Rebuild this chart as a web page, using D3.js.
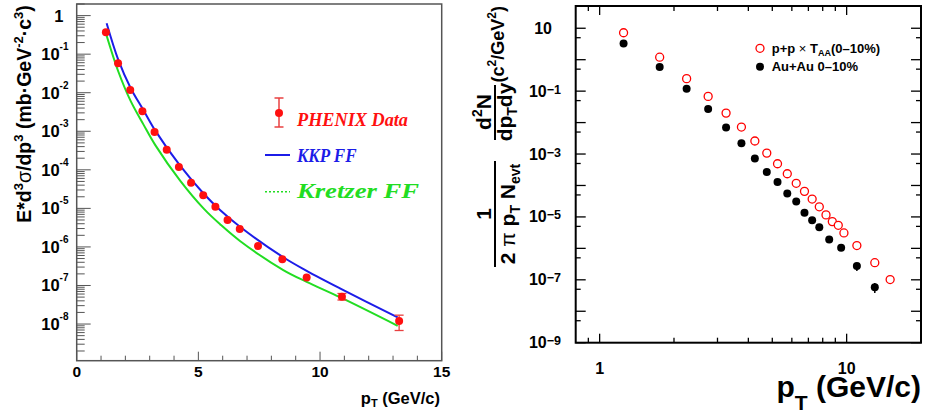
<!DOCTYPE html>
<html><head><meta charset="utf-8">
<script src="https://cdn.jsdelivr.net/npm/d3@7"></script>
<style>body{margin:0;background:#fff}svg{display:block}</style>
</head><body>
<svg id="c" width="925" height="415" font-family="Liberation Sans, Arial, sans-serif"></svg>
<script>
// ---------- LEFT PANEL DATA ----------
const phenixPt  = [1.2, 1.7, 2.2, 2.7, 3.2, 3.7, 4.2, 4.7, 5.2, 5.7, 6.2, 6.7, 7.45, 8.45, 9.45, 10.9, 13.25];
const phenixVal = [0.37, 0.058, 0.0118, 3.3e-3, 9.6e-4, 3.3e-4, 1.18e-4, 4.64e-5, 2.19e-5, 1.1e-5, 5.0e-6, 2.93e-6, 1.05e-6, 4.8e-7, 1.6e-7, 5.1e-8, 1.2e-8];
const phenixLo  = [null,null,null,null,null,null,null,null,null,null,null,null,null,null,null,4.2e-8,6.8e-9];
const phenixHi  = [null,null,null,null,null,null,null,null,null,null,null,null,null,null,null,6.2e-8,1.7e-8];
const kkpPt   = [1.23, 1.71, 2.22, 2.74, 3.23, 4.25, 5.24, 5.89, 6.71, 8.49, 9.45, 10.84, 13.19];
const kkpVal  = [0.635, 0.071, 0.0131, 3.57e-3, 1.04e-3, 1.28e-4, 2.32e-5, 9.1e-6, 3.35e-6, 5.4e-7, 2.4e-7, 8.3e-8, 1.49e-8];
const kretPt  = [1.20, 1.71, 2.22, 2.74, 3.23, 4.25, 5.24, 5.89, 6.71, 8.49, 9.45, 10.84, 13.19];
const kretVal = [0.349, 0.0355, 6.03e-3, 1.51e-3, 4.37e-4, 5.25e-5, 9.55e-6, 3.89e-6, 1.43e-6, 2.51e-7, 1.24e-7, 4.9e-8, 9.0e-9];
const leftXTicks = [0,1,2,3,4,5,6,7,8,9,10,11,12,13,14,15];
const leftXLabels = [0,5,10,15];
const leftYExps = [0,-1,-2,-3,-4,-5,-6,-7,-8];

// ---------- RIGHT PANEL DATA ----------
const ppPt  = [1.25,1.75,2.25,2.75,3.25,3.75,4.25,4.75,5.25,5.75,6.25,6.75,7.25,7.75,8.25,8.75,9.25,9.75,11,13,15];
const ppVal = [7.2, 1.2, 0.25, 0.068, 0.020, 0.0072, 0.0026, 1.07e-3, 4.9e-4, 2.36e-4, 1.17e-4, 6.5e-5, 3.7e-5, 2.1e-5, 1.16e-5, 7.1e-6, 5.4e-6, 3.1e-6, 1.23e-6, 3.5e-7, 1.02e-7];
const auPt  = [1.25,1.75,2.25,2.75,3.25,3.75,4.25,4.75,5.25,5.75,6.25,6.75,7.25,7.75,8.5,9.5,11,13];
const auVal = [3.3, 0.59, 0.12, 0.027, 0.0070, 0.0022, 7.2e-4, 2.7e-4, 1.3e-4, 5.6e-5, 3.1e-5, 1.35e-5, 7.8e-6, 4.7e-6, 1.9e-6, 1.04e-6, 2.75e-7, 5.8e-8];
const auLo  = [null,null,null,null,null,null,null,null,null,null,null,null,null,null,null,null,1.9e-7,3.8e-8];
const auHi  = [null,null,null,null,null,null,null,null,null,null,null,null,null,null,null,null,3.4e-7,7.9e-8];
const rightXTicks = [0.9,1,2,3,4,5,6,7,8,9,10,20];
const rightXLabels = [1,10];
const rightYExps = [1,0,-1,-2,-3,-4,-5,-6,-7,-8,-9];
const rightYLabelExps = [1,-1,-3,-5,-7,-9];

const svg = d3.select("#c");
const SER = '"Liberation Serif", "Times New Roman", serif';

// ================= LEFT PANEL =================
const xL = d3.scaleLinear([0,15],[76.7,441.7]);
const yL = d3.scaleLog([1.12e-9,2],[360.7,4]);
const gL = svg.append("g");
const frameCol = "#555";

const lineL = d3.line().x(d=>xL(d[0])).y(d=>yL(d[1])).curve(d3.curveCatmullRom.alpha(0.5));
gL.append("path").attr("d", lineL(kretPt.map((p,i)=>[p,kretVal[i]])))
  .attr("fill","none").attr("stroke","#22dd22").attr("stroke-width",2);
gL.append("path").attr("d", lineL(kkpPt.map((p,i)=>[p,kkpVal[i]])))
  .attr("fill","none").attr("stroke","#1c1ce8").attr("stroke-width",2);

phenixPt.forEach((p,i)=>{
  if(phenixLo[i]==null) return;
  const x=xL(p), y1=yL(phenixLo[i]), y2=yL(phenixHi[i]);
  gL.append("line").attr("x1",x).attr("x2",x).attr("y1",y1).attr("y2",y2).attr("stroke","#e84040").attr("stroke-width",1.3);
  [y1,y2].forEach(y=>gL.append("line").attr("x1",x-4.5).attr("x2",x+4.5).attr("y1",y).attr("y2",y).attr("stroke","#e84040").attr("stroke-width",1.3));
});
gL.selectAll("circle.ph").data(phenixPt).join("circle").attr("class","ph")
  .attr("cx",d=>xL(d)).attr("cy",(d,i)=>yL(phenixVal[i])).attr("r",4).attr("fill","#ff1010");

gL.append("rect").attr("x",76.7).attr("y",4).attr("width",365).attr("height",356.7)
  .attr("fill","none").attr("stroke",frameCol).attr("stroke-width",1.5);

const lyTicks=[];
for(let k=-9;k<=0;k++) for(let m=1;m<=9;m++){const v=m*Math.pow(10,k); if(v>=1.12e-9&&v<=2) lyTicks.push([v,m===1]);}
lyTicks.forEach(([v,maj])=>{
  gL.append("line").attr("x1",76.7).attr("x2",76.7+(maj?14:8)).attr("y1",yL(v)).attr("y2",yL(v))
    .attr("stroke",frameCol).attr("stroke-width",1);
});
leftYExps.forEach(e=>{
  const y=yL(Math.pow(10,e));
  if(e===0){
    gL.append("text").attr("x",63.5).attr("y",y+6).attr("text-anchor","end").attr("font-size",16.5).attr("font-weight","bold").text("1");
  } else {
    const t=gL.append("text").attr("x",68.5).attr("y",y+6).attr("text-anchor","end").attr("font-weight","bold").attr("font-size",16.5);
    t.append("tspan").text("10");
    t.append("tspan").attr("font-size",10).attr("dy",-10).text(String(e));
  }
});
leftXTicks.forEach(v=>{
  const maj = v%5===0;
  gL.append("line").attr("x1",xL(v)).attr("x2",xL(v)).attr("y1",360.7).attr("y2",360.7-(maj?9:5))
    .attr("stroke",frameCol).attr("stroke-width",1);
});
leftXLabels.forEach(v=>{
  gL.append("text").attr("x",xL(v)).attr("y",377.3).attr("text-anchor","middle").attr("font-size",15.5).attr("font-weight","bold").text(v);
});
{
  const t=gL.append("text").attr("x",440).attr("y",404).attr("text-anchor","end").attr("font-size",16.5).attr("font-weight","bold");
  t.append("tspan").text("p");
  t.append("tspan").attr("font-size",11).attr("dy",3).text("T");
  t.append("tspan").attr("dy",-3).text(" (GeV/c)");
}
{
  const t=gL.append("text").attr("transform","translate(31,114) rotate(-90)").attr("text-anchor","middle")
    .attr("font-size",19.5).attr("font-weight","bold");
  t.append("tspan").text("E*d");
  t.append("tspan").attr("font-size",13).attr("dy",-8).text("3");
  t.append("tspan").attr("dy",8).attr("font-weight","normal").text("σ");
  t.append("tspan").text("/dp");
  t.append("tspan").attr("font-size",13).attr("dy",-8).text("3");
  t.append("tspan").attr("dy",8).text(" (mb·GeV");
  t.append("tspan").attr("font-size",13).attr("dy",-8).text("-2");
  t.append("tspan").attr("dy",8).text("·c");
  t.append("tspan").attr("font-size",13).attr("dy",-8).text("3");
  t.append("tspan").attr("dy",8).text(")");
}
{
  const ex=279;
  gL.append("line").attr("x1",ex).attr("x2",ex).attr("y1",98).attr("y2",127).attr("stroke","#e84040").attr("stroke-width",1.5);
  [98,127].forEach(y=>gL.append("line").attr("x1",ex-4.5).attr("x2",ex+4.5).attr("y1",y).attr("y2",y).attr("stroke","#e84040").attr("stroke-width",1.5));
  gL.append("circle").attr("cx",ex).attr("cy",113).attr("r",4).attr("fill","#ff1010");
  gL.append("text").attr("x",297).attr("y",125.5).attr("font-family",SER).style("font-family",SER).attr("font-style","italic").attr("font-weight","bold")
    .attr("font-size",18.5).attr("fill","#ff1010").attr("textLength",111).attr("lengthAdjust","spacingAndGlyphs").text("PHENIX Data");
  gL.append("line").attr("x1",265).attr("x2",290).attr("y1",155).attr("y2",155).attr("stroke","#1c1ce8").attr("stroke-width",2);
  gL.append("text").attr("x",297).attr("y",161.5).style("font-family",SER).attr("font-style","italic").attr("font-weight","bold")
    .attr("font-size",19.5).attr("fill","#1c1ce8").attr("textLength",59.5).attr("lengthAdjust","spacingAndGlyphs").text("KKP FF");
  gL.append("line").attr("x1",265).attr("x2",290).attr("y1",191.7).attr("y2",191.7).attr("stroke","#22dd22").attr("stroke-width",1.5).attr("stroke-dasharray","2,2");
  gL.append("text").attr("x",297).attr("y",197.5).style("font-family",SER).attr("font-style","italic").attr("font-weight","bold")
    .attr("font-size",20).attr("fill","#22dd22").attr("textLength",122).attr("lengthAdjust","spacingAndGlyphs").text("Kretzer FF");
}

// ================= RIGHT PANEL =================
const xR = d3.scaleLog([0.8,20],[575.7,921]);
const yR = d3.scaleLog([1e-9,51],[342.7,6]);
const gR = svg.append("g");

auPt.forEach((p,i)=>{
  if(auLo[i]==null) return;
  gR.append("line").attr("x1",xR(p)).attr("x2",xR(p)).attr("y1",yR(auLo[i])).attr("y2",yR(auHi[i])).attr("stroke","#000").attr("stroke-width",1.5);
});
gR.selectAll("circle.au").data(auPt).join("circle").attr("class","au")
  .attr("cx",d=>xR(d)).attr("cy",(d,i)=>yR(auVal[i])).attr("r",4).attr("fill","#000");
gR.selectAll("circle.pp").data(ppPt).join("circle").attr("class","pp")
  .attr("cx",d=>xR(d)).attr("cy",(d,i)=>yR(ppVal[i])).attr("r",4).attr("fill","#fff").attr("stroke","#ff0000").attr("stroke-width",1.3);

gR.append("rect").attr("x",575.7).attr("y",6).attr("width",345.3).attr("height",336.7)
  .attr("fill","none").attr("stroke","#000").attr("stroke-width",2);
const ryTicks=[];
rightYExps.forEach(e=>ryTicks.push([Math.pow(10,e),true]));
rightYExps.forEach(e=>{const v=5*Math.pow(10,e-1); if(v>=1e-9) ryTicks.push([v,false]);});
ryTicks.forEach(([v,maj])=>{
  const y=yR(v), L=maj?10:5;
  gR.append("line").attr("x1",575.7).attr("x2",575.7+L).attr("y1",y).attr("y2",y).attr("stroke","#000").attr("stroke-width",1.3);
  gR.append("line").attr("x1",921-L).attr("x2",921).attr("y1",y).attr("y2",y).attr("stroke","#000").attr("stroke-width",1.3);
});
rightYLabelExps.forEach(e=>{
  const y=yR(Math.pow(10,e));
  if(e===1){
    gR.append("text").attr("x",552).attr("y",y+5.5).attr("text-anchor","end").attr("font-size",16).attr("font-weight","bold").text("10");
  } else {
    const t=gR.append("text").attr("x",561).attr("y",y+5.5).attr("text-anchor","end").attr("font-size",16).attr("font-weight","bold");
    t.append("tspan").text("10");
    t.append("tspan").attr("font-size",12.5).attr("dy",-3).text(String(e).replace("-","\u2212"));
  }
});
rightXTicks.forEach(v=>{
  const maj = (v===1||v===10);
  const x=xR(v), L=maj?9:5;
  gR.append("line").attr("x1",x).attr("x2",x).attr("y1",342.7).attr("y2",342.7-L).attr("stroke","#000").attr("stroke-width",1.3);
  gR.append("line").attr("x1",x).attr("x2",x).attr("y1",6).attr("y2",6+L).attr("stroke","#000").attr("stroke-width",1.3);
});
rightXLabels.forEach(v=>{
  gR.append("text").attr("x",xR(v)).attr("y",373.5).attr("text-anchor","middle").attr("font-size",16).attr("font-weight","bold").text(v);
});
{
  const t=gR.append("text").attr("x",921).attr("y",397).attr("text-anchor","end").attr("font-size",30).attr("font-weight","bold");
  t.append("tspan").text("p");
  t.append("tspan").attr("font-size",21).attr("dy",13).text("T");
  t.append("tspan").attr("dy",-13).text(" (GeV/c)");
}
{
  gR.append("circle").attr("cx",760).attr("cy",48.3).attr("r",4).attr("fill","#fff").attr("stroke","#ff0000").attr("stroke-width",1.3);
  const t=gR.append("text").attr("x",771.7).attr("y",53).attr("font-size",13).attr("font-weight","bold");
  t.append("tspan").text("p+p ");
  t.append("tspan").attr("font-weight","normal").text("×");
  t.append("tspan").text(" T");
  t.append("tspan").attr("font-size",9).attr("dy",3).text("AA");
  t.append("tspan").attr("dy",-3).text("(0–10%)");
  gR.append("circle").attr("cx",760).attr("cy",66.7).attr("r",4).attr("fill","#000");
  gR.append("text").attr("x",771.7).attr("y",71.4).attr("font-size",13).attr("font-weight","bold").text("Au+Au 0–10%");
}
{
  const g=gR.append("g").attr("transform","translate(495,0) rotate(-90)");
  const fs=21, sfs=14;
  g.append("text").attr("x",-214).attr("y",-4).attr("text-anchor","middle").attr("font-size",fs).attr("font-weight","bold").text("1");
  g.append("line").attr("x1",-267).attr("x2",-161).attr("y1",0).attr("y2",0).attr("stroke","#000").attr("stroke-width",2);
  {
    const t=g.append("text").attr("x",-214).attr("y",20).attr("text-anchor","middle").attr("font-size",fs).attr("font-weight","bold");
    t.append("tspan").text("2 ");
    t.append("tspan").attr("font-weight","normal").text("π");
    t.append("tspan").text(" p");
    t.append("tspan").attr("font-size",sfs).attr("dy",5).text("T");
    t.append("tspan").attr("dy",-5).text(" N");
    t.append("tspan").attr("font-size",sfs).attr("dy",5).text("evt");
  }
  {
    const t=g.append("text").attr("x",-112).attr("y",-4).attr("text-anchor","middle").attr("font-size",fs).attr("font-weight","bold");
    t.append("tspan").text("d");
    t.append("tspan").attr("font-size",sfs).attr("dy",-9).text("2");
    t.append("tspan").attr("dy",9).text("N");
  }
  g.append("line").attr("x1",-140).attr("x2",-85).attr("y1",0).attr("y2",0).attr("stroke","#000").attr("stroke-width",2);
  {
    const t=g.append("text").attr("x",-112).attr("y",17).attr("text-anchor","middle").attr("font-size",fs).attr("font-weight","bold");
    t.append("tspan").text("dp");
    t.append("tspan").attr("font-size",sfs).attr("dy",5).text("T");
    t.append("tspan").attr("dy",-5).text("dy");
  }
  {
    const t=g.append("text").attr("x",-6).attr("y",9).attr("text-anchor","end").attr("font-size",18).attr("font-weight","bold");
    t.append("tspan").text("(c");
    t.append("tspan").attr("font-size",12).attr("dy",-8).text("2");
    t.append("tspan").attr("dy",8).text("/GeV");
    t.append("tspan").attr("font-size",12).attr("dy",-8).text("2");
    t.append("tspan").attr("dy",8).text(")");
  }
}
</script></body></html>
